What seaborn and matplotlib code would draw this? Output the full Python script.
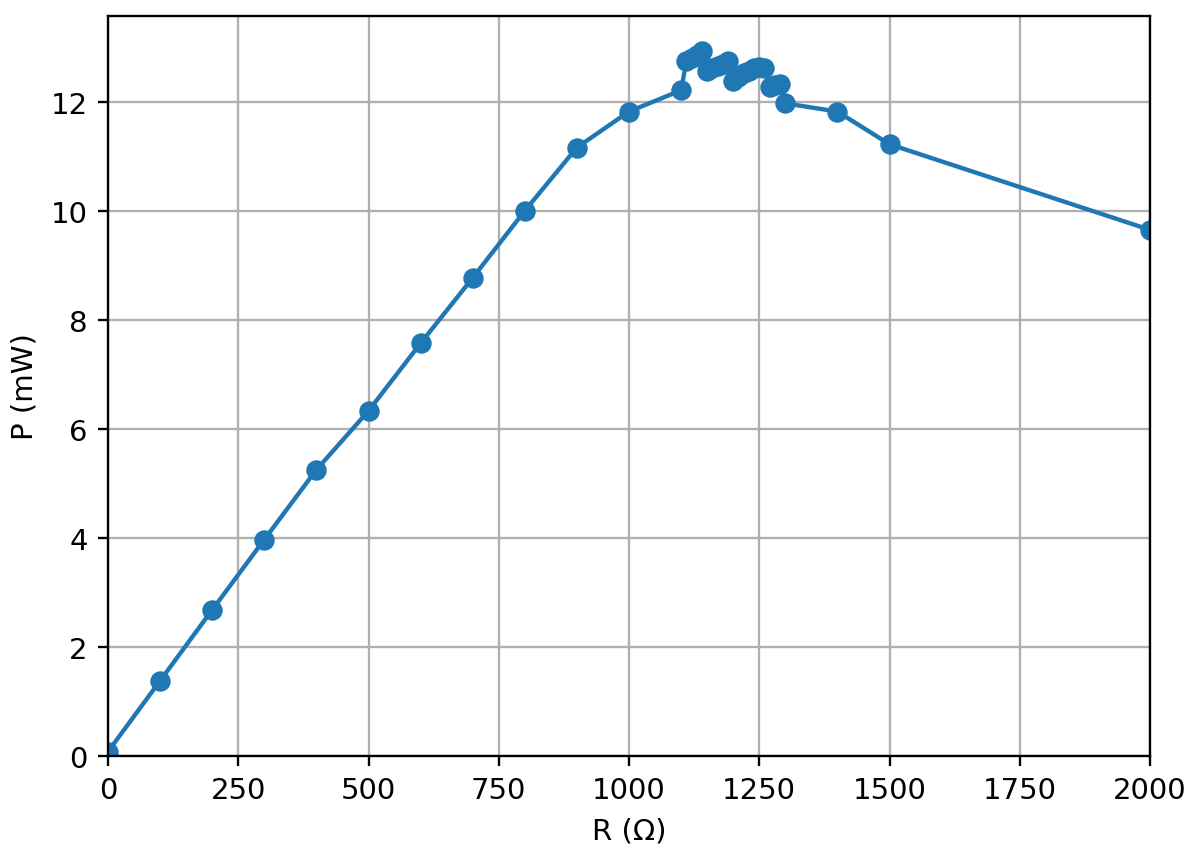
import numpy as np
import pandas as pd
import seaborn as sns
import matplotlib
matplotlib.use("Agg")
import matplotlib.pyplot as plt

# Resistencia de carga (Ohm) y potencia medida (mW)
R = [0, 100, 200, 300, 400, 500, 600, 700, 800, 900, 1000,
     1100, 1110, 1120, 1130, 1140, 1150, 1160, 1170, 1180, 1190,
     1200, 1210, 1220, 1230, 1240, 1250, 1260, 1270, 1280, 1290,
     1300, 1400, 1500, 2000]
P = [0.08, 1.38, 2.68, 3.97, 5.25, 6.33, 7.57, 8.77, 10.0, 11.16, 11.82,
     12.21, 12.74, 12.80, 12.86, 12.93, 12.57, 12.62, 12.66, 12.70, 12.74,
     12.38, 12.45, 12.52, 12.57, 12.61, 12.63, 12.62, 12.27, 12.30, 12.33,
     11.97, 11.82, 11.22, 9.65]

df = pd.DataFrame({"R": R, "P": P})

dpi = 210
fig, ax = plt.subplots(figsize=(1203 / dpi, 858 / dpi), dpi=dpi)
fig.subplots_adjust(left=108 / 1203, right=1150 / 1203,
                    top=1 - 17 / 858, bottom=1 - 757 / 858)

sns.lineplot(data=df, x="R", y="P", ax=ax, marker="o", markersize=6,
             markeredgecolor="#1f77b4", markeredgewidth=1, color="#1f77b4",
             linewidth=1.5, sort=False)

ax.set_xlim(0, 2000)
ax.set_ylim(bottom=0)
ax.grid(True, color="#b0b0b0", linewidth=0.8)
ax.set_axisbelow(True)
ax.set_xlabel("R (Ω)")
ax.set_ylabel("P (mW)")

plt.savefig("out.png", dpi=dpi)
